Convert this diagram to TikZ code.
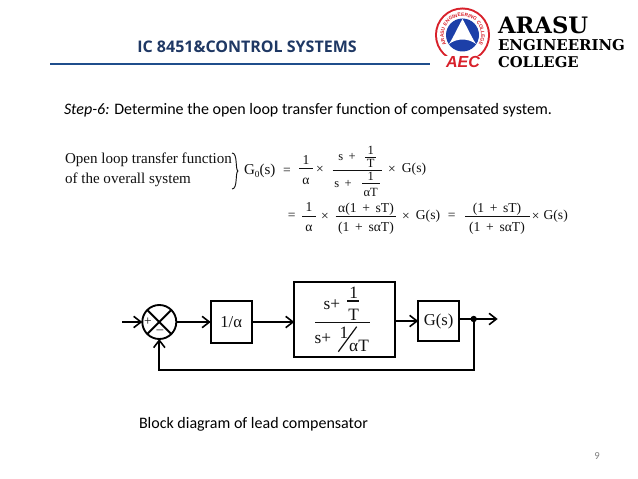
\documentclass[tikz,border=0pt]{standalone}
\usepackage{fontspec}
\setmainfont{Liberation Serif}
\newfontfamily\carlf{Carlito}
\newfontfamily\openf{Open Sans}
\newfontfamily\djsf{DejaVu Serif}
\newfontfamily\lsansf{Liberation Sans}
\usetikzlibrary{arrows.meta,decorations.text}
\definecolor{titleblue}{HTML}{1F3864}
\definecolor{rulecol}{HTML}{1F4E8C}
\definecolor{logored}{HTML}{D8202A}
\definecolor{logoblue}{HTML}{1C3FA8}
\definecolor{inkc}{HTML}{111111}
\tikzset{
  x=0.75pt,y=-0.75pt,
  every node/.style={inner sep=0pt,outer sep=0pt},
  book/.style={text=inkc,font=\fontsize{11.3}{12}\selectfont},
  eqt/.style={text=inkc,font=\fontsize{10.2}{11}\selectfont},
  eqs/.style={text=inkc,font=\fontsize{9.4}{10}\selectfont},
  bar/.style={draw=inkc,line width=0.7pt},
  blockbox/.style={draw=black,line width=1.4pt,fill=white},
  blocktxt/.style={text=inkc,font=\fontsize{12.5}{14}\selectfont},
  fractxt/.style={text=inkc,font=\fontsize{13}{15}\selectfont},
  link/.style={draw=black,line width=1.4pt,-{Straight Barb[length=5.5pt,width=8.5pt,line width=1.2pt]}},
  plainlink/.style={draw=black,line width=1.4pt},
  brand/.style={text=black,anchor=west},
}
\begin{document}
\begin{tikzpicture}
\useasboundingbox (0,0) rectangle (638,478);
\fill[white] (0,0) rectangle (638,478);

% header
\node (title) at (247,47) {\textcolor{titleblue}{\openf\bfseries\fontsize{12}{14}\selectfont IC 8451\&CONTROL SYSTEMS}};
\draw[rulecol,line width=1.6pt] (50,64) -- (430,64);

% logo
\fill[logored] (462.5,35) circle (27.5);
\fill[white] (462.5,35) circle (25.5);
\path[decorate,decoration={text along path,text align=center,
  text={|\lsansf\bfseries\fontsize{3.7}{5}\selectfont\color{logored}|ARASU ENGINEERING COLLEGE}}]
  (446.0,43.8) arc[start angle=-208,end angle=28,radius=18.7];
\fill[logoblue] (462.5,35) circle (16.5);
\fill[white] (462.5,19) .. controls (466,25) and (472,38) .. (476,44)
  .. controls (468,38) and (457,38) .. (449,44)
  .. controls (453,38) and (459,25) .. (462.5,19) -- cycle;
\fill[white] (441,56) rectangle (486,70);
\node (aec) at (463,62) {\textcolor{logored}{\lsansf\bfseries\itshape\fontsize{12}{14}\selectfont AEC}};
\node[brand,font=\djsf\bfseries\fontsize{17}{19}\selectfont] (b1) at (498,25) {ARASU};
\node[brand,font=\djsf\bfseries\fontsize{11.2}{13}\selectfont] (b2) at (498,45.5) {ENGINEERING};
\node[brand,font=\djsf\bfseries\fontsize{11.1}{13}\selectfont] (b3) at (498,62) {COLLEGE};

% step text
\node[anchor=west] (step) at (64,110) {\carlf\fontsize{12}{14}\selectfont\textit{Step-6:} Determine the open loop transfer function of compensated system.};

% equation
\node[book,anchor=west] (o1) at (65,160) {Open loop transfer function};
\node[book,anchor=west] (o2) at (65,180) {of the overall system};
\draw[inkc,line width=0.7pt] (232,153) .. controls (238,153) and (235,170) .. (238,171)
  .. controls (235,172) and (238,189) .. (232,189);
\node[book,anchor=west] (g0) at (244,171) {G\raisebox{-2pt}{\fontsize{7}{8}\selectfont 0}(s)};
\node[eqt] (e1) at (287,171) {=};
\node[eqt] (e2) at (306,160) {1}; \draw[bar] (299,168) -- (313,168); \node[eqt] (e3) at (306,181) {α};
\node[eqt] (e4) at (320,170) {×};
\node[eqs] (e5) at (347,157) {s\, +};
\node[eqs] (e6) at (370.7,150) {1}; \draw[bar] (365,157) -- (376,157); \node[eqs] (e7) at (370.7,163.5) {T};
\draw[bar] (332.7,170) -- (381.7,170);
\node[eqs] (e8) at (343,184) {s\, +};
\node[eqs] (e9) at (370.7,176) {1}; \draw[bar] (362,183) -- (380,183); \node[eqs] (e10) at (370.7,192) {αT};
\node[eqt] (e11) at (392,170) {×};
\node[eqt] (e12) at (414,169) {G(s)};

\node[eqt] (f1) at (291.7,216) {=};
\node[eqt] (f2) at (309,207) {1}; \draw[bar] (302,216) -- (316,216); \node[eqt] (f3) at (309,228) {α};
\node[eqt] (f4) at (325,217) {×};
\node[eqt] (f5) at (366,209) {α(1 \,+\, sT)};
\draw[bar] (335.7,216) -- (396,216);
\node[eqt] (f6) at (366,228) {(1 \,+\, sαT)};
\node[eqt] (f7) at (406,217) {×};
\node[eqt] (f8) at (428,216) {G(s)};
\node[eqt] (f9) at (451.7,216) {=};
\node[eqt] (f10) at (497,209) {(1 \,+\, sT)};
\draw[bar] (465,216) -- (530,216);
\node[eqt] (f11) at (497,228) {(1 \,+\, sαT)};
\node[eqt] (f12) at (535.7,217) {×};
\node[eqt] (f13) at (555.7,216) {G(s)};

% block diagram
\coordinate (in) at (122,322);
\node[circle,draw=black,line width=1.4pt,minimum size=25.5pt,fill=white] (sum) at (159.3,322) {};
\draw[plainlink] (sum.north east) -- (sum.south west);
\draw[plainlink] (sum.north west) -- (sum.south east);
\node[text=inkc,font=\fontsize{10}{10}\selectfont] (plus) at (148,322) {+};
\node[text=inkc,font=\fontsize{10}{10}\selectfont] (minus) at (160,332) {–};
\node[blockbox,minimum width=30.7pt,minimum height=31pt,blocktxt] (alpha) at (231.2,322) {1/α};
\node[blockbox,minimum width=75.7pt,minimum height=56.2pt] (lead) at (344.8,319.8) {};
\node[blockbox,minimum width=30.5pt,minimum height=30.2pt,blocktxt] (gs) at (438.6,321) {G(s)};
\node[fractxt] (ln1) at (332,305) {s+};
\node[fractxt] (ln2) at (353.7,293) {1};
\draw[bar,line width=0.9pt] (347,301) -- (359,301);
\node[fractxt] (ln3) at (353.7,315) {T};
\draw[bar,line width=0.9pt] (315,322.7) -- (370,322.7);
\node[fractxt] (ld1) at (323,339) {s+};
\node[fractxt] (ld2) at (344,333) {1};
\draw[bar,line width=0.9pt] (356.7,326.7) -- (338.3,351.7);
\node[fractxt] (ld3) at (359,346) {αT};

\fill[black] (473.7,319) circle (3.2);
\coordinate (dot) at (473.7,319);
\coordinate (out) at (497.7,319);
\draw[link] (in) -- (sum.west);
\draw[link] (sum.east) -- (alpha.west);
\draw[link] (alpha.east) -- (lead.west |- alpha.east);
\draw[link] (lead.east |- gs.west) -- (gs.west);
\draw[plainlink] (gs.east |- dot) -- (dot);
\draw[link] (dot) -- (out);
\draw[link] (dot) -- (473.7,370) -- (159.3,370) -- (sum.south);

\node[anchor=west] (cap) at (139,424) {\carlf\fontsize{12}{14}\selectfont Block diagram of lead compensator};
\node[text=gray] (page) at (597,456) {\carlf\fontsize{8}{10}\selectfont 9};
\end{tikzpicture}
\end{document}
